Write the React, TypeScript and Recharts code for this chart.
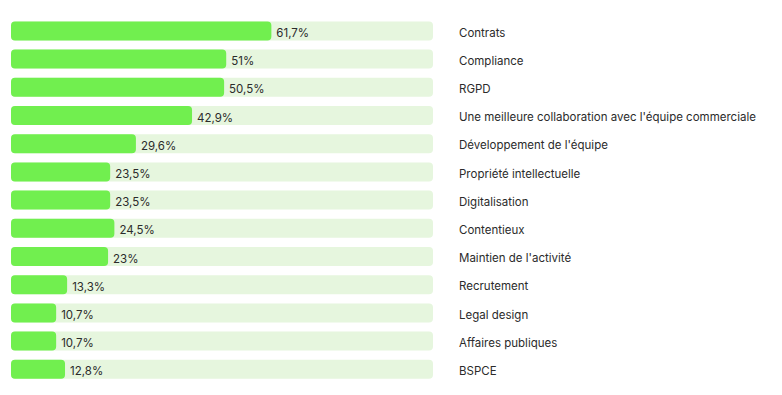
import { BarChart, Bar, XAxis, YAxis, LabelList } from "recharts";

// ─── Data ────────────────────────────────────────────────
const topics = [
  "Contrats",
  "Compliance",
  "RGPD",
  "Une meilleure collaboration avec l'équipe commerciale",
  "Développement de l'équipe",
  "Propriété intellectuelle",
  "Digitalisation",
  "Contentieux",
  "Maintien de l'activité",
  "Recrutement",
  "Legal design",
  "Affaires publiques",
  "BSPCE",
];

const shares = [61.7, 51, 50.5, 42.9, 29.6, 23.5, 23.5, 24.5, 23, 13.3, 10.7, 10.7, 12.8];

const chartData = topics.map((topic, i) => ({ topic, share: shares[i] }));

const formatPct = (v: number) => `${String(v).replace(".", ",")}%`;

const TEXT_COLOR = "#2b2b2b";

// single-line tick, no wrapping
function TopicTick(props: any) {
  const { x, y, payload } = props;
  return (
    <text x={x} y={y} dy={6} textAnchor="start" fontSize={11.5} fill={TEXT_COLOR}>
      {payload.value}
    </text>
  );
}

export default function App() {
  return (
    <div style={{ width: 774, height: 387, fontFamily: "Inter, sans-serif" }}>
      <BarChart
        width={774}
        height={387}
        data={chartData}
        layout="vertical"
        margin={{ top: 8.4, right: 9, left: 3, bottom: 12 }}
        barSize={19}
      >
        <XAxis type="number" domain={[0, 100]} hide />
        <YAxis
          type="category"
          dataKey="topic"
          orientation="right"
          width={340}
          axisLine={false}
          tickLine={false}
          tickSize={6}
          tickMargin={20}
          tick={<TopicTick />}
        />
        <Bar
          dataKey="share"
          fill="#71ef4f"
          radius={4}
          background={{ fill: "#e6f6de", radius: 4 }}
          isAnimationActive={false}
        >
          <LabelList
            dataKey="share"
            position="right"
            offset={5}
            formatter={(v: any) => formatPct(Number(v))}
            style={{ fontSize: 11.5, fill: TEXT_COLOR }}
            dy={2}
          />
        </Bar>
      </BarChart>
    </div>
  );
}
